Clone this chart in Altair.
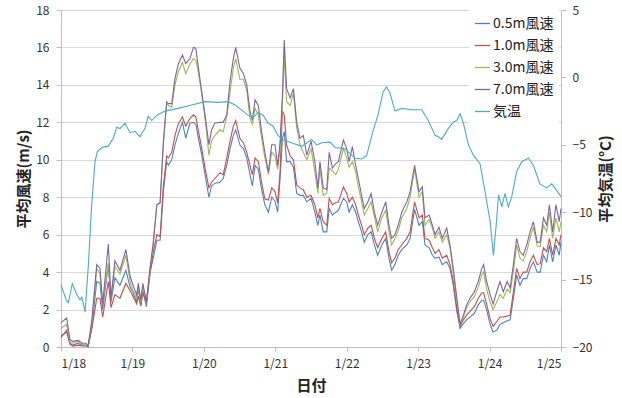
import altair as alt
import pandas as pd

# Elapsed hours from 1/18 00:00 for the wind speed readings
wind_hours = [
    0, 1.9, 3.0, 4.0, 5.7, 7.1, 8.4, 9.1, 10.4, 12.0,
    13.1, 14.0, 15.9, 16.8, 18.1, 19.8, 21.8, 23.2, 24.2, 25.4,
    26.0, 26.8, 27.5, 28.7, 29.9, 31.0, 32.2, 33.3, 34.4, 35.5,
    36.1, 37.2, 38.3, 39.4, 40.8, 41.9, 43.3, 44.5, 45.3, 46.1,
    47.3, 48.4, 49.7, 50.6, 51.7, 53.4, 54.5, 55.7, 56.8, 57.9,
    58.7, 60.1, 61.3, 62.4, 63.5, 64.3, 65.2, 66.3, 67.4, 68.5,
    69.7, 70.8, 71.9, 72.8, 73.6, 74.4, 75.0, 75.8, 77.0, 78.1,
    79.2, 80.3, 81.4, 82.6, 84.0, 85.3, 86.3, 87.0, 88.1, 89.3,
    90.1, 91.2, 92.3, 93.2, 94.9, 96.0, 96.8, 97.9, 99.0, 99.9,
    101.0, 101.9, 103.1, 104.2, 105.3, 106.4, 107.8, 109.1, 110.2, 111.1,
    112.2, 113.3, 114.5, 116.2, 117.3, 118.8, 120.3, 121.4, 122.3, 123.7,
    124.8, 125.7, 127.0, 128.1, 129.6, 130.7, 131.8, 133.0, 134.1, 135.2,
    136.3, 137.4, 138.9, 140.2, 141.4, 142.0, 143.0, 144.2, 145.2, 146.4,
    147.5, 148.6, 149.9, 150.9, 152.0, 153.1, 154.2, 155.3, 156.5, 157.6,
    158.7, 160.0, 161.0, 162.1, 163.2, 164.1, 165.2, 166.3, 167.4, 168.0,
]

ws_05m = [
    0.6, 0.8, 0.2, 0.1, 0.2, 0.1, 0.1, 0.05, 1.1, 3.5,
    3.4, 2.0, 4.4, 2.4, 3.7, 3.3, 4.1, 3.2, 2.9, 2.4,
    3.1, 2.2, 3.0, 2.15, 4.0, 4.75, 5.7, 5.7, 8.3, 9.9,
    9.7, 10.0, 10.8, 11.4, 12.0, 11.15, 11.95, 12.0, 11.9, 11.2,
    10.25, 9.2, 8.0, 8.6, 8.75, 8.8, 9.0, 9.7, 10.6, 11.3,
    11.6, 10.8, 10.6, 10.1, 9.2, 8.6, 9.7, 9.5, 8.4, 7.6,
    7.2, 8.0, 7.8, 7.2, 9.0, 11.15, 11.5, 9.9, 9.9, 9.6,
    8.2, 8.1, 8.1, 7.75, 7.95, 7.2, 6.5, 7.05, 6.15, 6.15,
    7.4, 7.05, 7.2, 7.3, 7.95, 7.75, 7.2, 7.6, 7.2, 6.7,
    6.15, 5.6, 6.0, 6.15, 5.45, 4.9, 5.45, 5.8, 4.75, 4.1,
    4.4, 4.9, 5.2, 5.45, 5.8, 7.35, 6.5, 6.7, 5.45, 5.3,
    4.9, 4.75, 4.8, 4.4, 4.55, 4.2, 3.3, 1.9, 1.0, 1.25,
    1.45, 1.6, 1.8, 2.25, 2.5, 2.5, 2.0, 1.2, 0.8, 0.9,
    1.2, 1.3, 1.4, 1.45, 2.6, 3.85, 3.3, 3.65, 3.65, 4.2,
    4.55, 4.0, 4.0, 4.9, 4.55, 5.45, 4.55, 5.45, 4.9, 5.6,
]

ws_10m = [
    0.5, 0.9, 0.15, 0.05, 0.1, 0.05, 0.05, 0.0, 1.0, 2.6,
    2.6, 1.6, 3.5, 2.1, 2.8, 2.6, 3.4, 3.0, 2.7, 2.3,
    2.7, 2.2, 2.9, 2.4, 3.9, 5.1, 6.0, 5.9, 8.6, 10.2,
    10.1, 10.4, 11.3, 11.9, 12.3, 11.8, 12.2, 12.4, 12.3, 11.6,
    10.6, 9.55, 8.5, 8.8, 9.0, 9.3, 9.2, 10.1, 11.0, 11.8,
    12.1, 11.15, 10.9, 10.4, 9.7, 9.2, 10.1, 9.9, 8.8, 7.9,
    7.85, 8.5, 8.3, 7.7, 9.35, 12.6, 12.4, 10.8, 10.2, 10.0,
    8.65, 8.5, 8.4, 8.0, 8.1, 7.6, 6.9, 7.4, 6.7, 6.5,
    7.95, 7.6, 7.7, 7.75, 8.55, 8.2, 7.75, 8.0, 7.6, 7.05,
    6.5, 6.0, 6.35, 6.5, 5.8, 5.3, 5.8, 6.15, 5.1, 4.5,
    4.75, 5.2, 5.45, 5.8, 6.15, 7.75, 6.9, 7.05, 5.8, 5.7,
    5.3, 5.0, 5.2, 4.75, 4.9, 4.4, 3.5, 2.05, 1.1, 1.45,
    1.7, 1.9, 2.15, 2.6, 2.9, 2.9, 2.3, 1.5, 1.1, 1.35,
    1.6, 1.6, 1.65, 1.7, 2.95, 4.2, 3.65, 4.0, 4.0, 4.55,
    4.9, 4.4, 4.45, 5.3, 5.1, 5.8, 4.9, 5.8, 5.45, 6.0,
]

ws_30m = [
    1.0, 1.2, 0.3, 0.2, 0.3, 0.15, 0.1, 0.05, 1.3, 4.2,
    3.9, 2.3, 4.5, 2.6, 4.3, 3.9, 4.9, 3.5, 3.0, 2.6,
    3.2, 2.4, 3.2, 2.5, 4.1, 5.5, 7.6, 7.7, 10.8, 13.0,
    12.9, 12.8, 14.0, 14.7, 15.2, 14.6, 15.1, 15.4, 15.3, 14.7,
    13.5, 12.2, 10.25, 11.0, 11.3, 11.6, 11.5, 12.3, 13.6, 14.9,
    15.4, 14.3, 14.3, 13.7, 12.2, 11.9, 12.75, 12.4, 11.15, 10.1,
    9.2, 10.4, 10.2, 9.5, 10.6, 13.0, 15.6, 13.1, 12.9, 13.55,
    11.7, 10.8, 10.4, 10.0, 10.6, 9.35, 8.2, 9.55, 8.1, 8.2,
    9.55, 9.4, 9.2, 9.5, 10.6, 10.1, 9.6, 9.9, 9.35, 8.55,
    7.75, 7.05, 7.4, 7.75, 6.95, 6.15, 6.9, 7.3, 6.15, 5.45,
    5.8, 6.2, 6.9, 7.4, 8.0, 9.5, 8.0, 8.3, 6.5, 6.8,
    6.35, 5.8, 6.15, 5.6, 6.0, 5.3, 4.0, 2.5, 1.2, 1.6,
    2.1, 2.4, 2.7, 3.2, 3.85, 4.0, 3.1, 2.4, 2.0, 2.4,
    2.8, 2.6, 3.1, 2.9, 4.0, 5.45, 4.75, 4.6, 5.1, 5.8,
    6.4, 5.4, 5.35, 6.5, 6.15, 7.2, 5.8, 6.9, 6.15, 6.7,
]

ws_70m = [
    1.3, 1.55, 0.4, 0.3, 0.35, 0.2, 0.2, 0.05, 1.5, 4.4,
    4.2, 2.3, 5.5, 2.6, 4.6, 4.1, 5.2, 3.8, 3.3, 2.8,
    3.4, 2.5, 3.4, 2.4, 4.2, 5.6, 7.6, 7.7, 11.0, 13.1,
    13.0, 13.0, 14.35, 15.1, 15.6, 15.15, 15.4, 16.0, 15.95, 15.0,
    13.6, 12.4, 10.8, 11.6, 11.95, 12.0, 12.0, 12.4, 14.2, 15.4,
    16.0, 14.9, 14.6, 14.0, 12.6, 12.1, 13.2, 12.9, 11.5, 10.4,
    9.35, 10.8, 10.8, 9.7, 10.9, 13.5, 16.4, 13.8, 13.3, 13.8,
    12.0, 11.15, 11.3, 10.25, 11.0, 9.9, 8.5, 9.9, 8.5, 8.4,
    10.4, 9.55, 9.8, 9.9, 11.05, 10.6, 9.9, 10.7, 9.7, 9.0,
    8.1, 7.4, 7.75, 8.2, 7.2, 6.5, 7.2, 7.75, 6.5, 5.8,
    6.0, 6.5, 7.2, 7.75, 8.3, 9.7, 8.3, 8.55, 6.9, 7.05,
    6.5, 6.0, 6.4, 5.8, 6.35, 5.45, 4.2, 2.6, 1.2, 1.7,
    2.25, 2.6, 2.95, 3.5, 4.2, 4.4, 3.5, 2.8, 2.3, 2.95,
    3.5, 2.95, 3.5, 3.15, 4.4, 5.8, 5.1, 4.9, 5.45, 6.15,
    6.7, 5.6, 5.6, 6.9, 6.5, 7.6, 6.15, 7.6, 6.7, 7.4,
]

# Air temperature readings (hours from 1/18 00:00, degrees C)
temp_hours = [
    0, 1.9, 2.5, 3.8, 5.3, 6.4, 7.0, 8.1, 9.2, 10.3,
    11.4, 12.2, 13.7, 15.9, 17.6, 18.7, 19.8, 21.5, 23.2, 24.9,
    26.5, 28.2, 29.3, 30.5, 32.2, 34.9, 39.4, 43.9, 48.4, 52.9,
    56.2, 58.5, 61.2, 62.8, 64.5, 66.2, 67.9, 69.6, 71.2, 72.9,
    74.6, 78.0, 80.9, 82.3, 84.2, 85.9, 87.7, 90.4, 92.1, 95.4,
    98.8, 101.0, 102.7, 104.8, 106.5, 108.2, 109.4, 110.6, 112.2, 114.5,
    117.8, 121.2, 123.4, 125.7, 126.8, 127.9, 130.1, 131.8, 133.0, 134.1,
    135.2, 136.9, 138.5, 140.8, 142.5, 144.2, 145.3, 146.4, 147.0, 148.1,
    149.2, 150.3, 151.4, 153.1, 154.8, 157.0, 158.7, 160.9, 163.2, 164.9,
    166.6, 168.0,
]
temp_vals = [
    -15.4, -16.6, -16.7, -15.3, -16.1, -16.5, -16.3, -17.4, -13.9, -9.5,
    -6.3, -5.5, -5.2, -5.1, -4.5, -3.7, -3.8, -3.4, -4.1, -4.0,
    -4.4, -3.8, -2.9, -3.2, -2.8, -2.5, -2.3, -2.05, -1.8, -1.85,
    -1.8, -2.05, -2.5, -2.8, -3.0, -2.6, -2.8, -3.4, -3.6, -4.3,
    -4.6, -4.9, -5.1, -4.9, -4.6, -5.0, -4.85, -4.8, -5.2, -5.3,
    -6.0, -6.05, -5.8, -4.0, -2.8, -1.1, -0.7, -1.2, -2.5, -2.3,
    -2.4, -2.4, -3.2, -4.3, -4.4, -4.6, -3.8, -3.3, -3.2, -2.7,
    -3.4, -5.0, -5.75, -6.4, -8.5, -10.7, -13.2, -10.5, -8.7, -9.6,
    -8.6, -9.6, -8.9, -7.0, -6.25, -6.0, -6.5, -7.9, -8.2, -7.9,
    -8.4, -8.85,
]

series_names = ["0.5m風速", "1.0m風速", "3.0m風速", "7.0m風速", "気温"]
series_colors = ["#4F81BD", "#C0504D", "#9BBB59", "#8064A2", "#4BACC6"]
day_ticks = [0, 24, 48, 72, 96, 120, 144, 168]

FONT = "Noto Sans CJK JP"

color_scale = alt.Scale(domain=series_names, range=series_colors)
legend = alt.Legend(
    orient="none", legendX=408, legendY=0, fillColor="white", padding=5,
    symbolType="stroke", symbolSize=225, symbolStrokeWidth=1.3,
    labelFont=FONT, labelFontSize=14, labelColor="#222222", labelOffset=2,
    rowPadding=6,
)

x_enc = alt.X(
    "hour:Q",
    scale=alt.Scale(domain=[0, 168], nice=False, zero=False),
    axis=alt.Axis(
        values=day_ticks, labelExpr="'1/' + (18 + datum.value / 24)",
        title="日付", grid=False, tickSize=4, labelPadding=7, titlePadding=9,
    ),
)

wind_axis = alt.Axis(
    values=list(range(0, 19, 2)), title="平均風速(m/s)", grid=True,
    tickSize=5, labelPadding=7, titlePadding=4,
)


def wind_layer(values, name):
    df = pd.DataFrame({"hour": wind_hours, "value": values, "series": name})
    return alt.Chart(df).mark_line(strokeWidth=1.1).encode(
        x=x_enc,
        y=alt.Y("value:Q", scale=alt.Scale(domain=[0, 18], nice=False), axis=wind_axis),
        color=alt.Color("series:N", scale=color_scale, legend=legend, title=None),
    )


wind = alt.layer(
    wind_layer(ws_05m, series_names[0]),
    wind_layer(ws_10m, series_names[1]),
    wind_layer(ws_30m, series_names[2]),
    wind_layer(ws_70m, series_names[3]),
)

temp_df = pd.DataFrame({"hour": temp_hours, "value": temp_vals, "series": series_names[4]})
temperature = alt.Chart(temp_df).mark_line(strokeWidth=1.1).encode(
    x=x_enc,
    y=alt.Y(
        "value:Q",
        scale=alt.Scale(domain=[-20, 5], nice=False, zero=False),
        axis=alt.Axis(
            orient="right", values=[-20, -15, -10, -5, 0, 5], title="平均気温(°C)",
            grid=False, tickSize=5, labelPadding=6, titlePadding=7,
            titleAngle=270, titleBaseline="top",
        ),
    ),
    color=alt.Color("series:N", scale=color_scale, legend=legend, title=None),
)

chart = (
    alt.layer(wind, temperature)
    .resolve_scale(y="independent")
    .properties(
        width=500, height=337,
        padding={"left": 61, "top": 10, "right": 61, "bottom": 51},
        autosize=alt.AutoSizeParams(type="none"),
        background="white",
    )
    .configure_view(strokeWidth=0)
    .configure_axis(
        labelFont=FONT, labelFontSize=12, labelColor="#333333",
        titleFont=FONT, titleFontSize=15, titleFontWeight="bold", titleColor="#222222",
        domainColor="#bfbfbf", tickColor="#bfbfbf", gridColor="#d9d9d9",
    )
)

chart.save("out.html", embed_options={"renderer": "svg", "actions": False})
